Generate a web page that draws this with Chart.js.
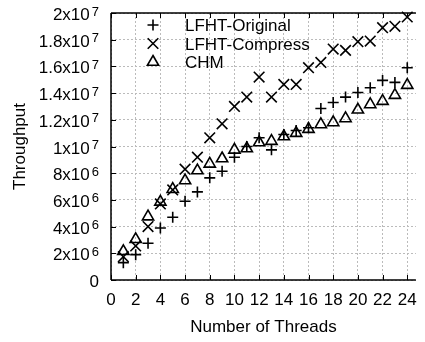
<!DOCTYPE html>
<html>
<head>
<meta charset="utf-8">
<script src="https://cdn.jsdelivr.net/npm/chart.js@4.4.1/dist/chart.umd.min.js"></script>
<style>
    html, body { margin: 0; padding: 0; background: #fff; overflow: hidden; }
    #myChart { display: block; }
</style>
</head>
<body>
<canvas id="myChart" width="425" height="342"></canvas>
<script>
// Данные (значения по оси Y в миллионах)
const threads = [1, 2, 3, 4, 5, 6, 7, 8, 9, 10, 11, 12, 13, 14, 15, 16, 17, 18, 19, 20, 21, 22, 23, 24];
const lfhtOriginal = [1.3, 1.9, 2.75, 3.9, 4.7, 5.9, 6.6, 7.65, 8.15, 9.2, 10.0, 10.65, 9.75, 10.9, 11.2, 11.4, 12.85, 13.3, 13.7, 14.05, 14.4, 14.95, 14.8, 15.9];
const lfhtCompress = [1.75, 2.55, 4.0, 5.7, 6.75, 8.3, 9.2, 10.65, 11.7, 13.0, 13.7, 15.2, 13.7, 14.65, 14.65, 15.9, 16.3, 17.3, 17.2, 17.85, 17.9, 18.9, 19.0, 19.7];
const chm = [2.15, 3.05, 4.75, 5.85, 6.8, 7.45, 8.2, 8.7, 9.1, 9.75, 9.85, 10.3, 10.4, 10.75, 11.0, 11.3, 11.65, 11.8, 12.1, 12.75, 13.15, 13.4, 13.85, 14.6];
const seriesLabels = ['LFHT-Original', 'LFHT-Compress', 'CHM'];
const xTicks = [0, 2, 4, 6, 8, 10, 12, 14, 16, 18, 20, 22, 24];
const yTicks = [0, 2, 4, 6, 8, 10, 12, 14, 16, 18, 20];
const yTickLabels = ['0', '2x10^6', '4x10^6', '6x10^6', '8x10^6', '1x10^7', '1.2x10^7', '1.4x10^7', '1.6x10^7', '1.8x10^7', '2x10^7'];

const FONT = '"Liberation Sans", Arial, sans-serif';

function toPoints(values) {
    return threads.map((t, i) => ({x: t, y: values[i]}));
}

// Маркер легенды
function drawMarker(ctx, ds, x, y) {
    ctx.save();
    ctx.strokeStyle = '#000';
    ctx.fillStyle = 'rgba(0,0,0,0)';
    ctx.lineWidth = ds.pointBorderWidth;
    if (Chart.helpers && Chart.helpers.drawPoint) {
        Chart.helpers.drawPoint(ctx, {
            pointStyle: ds.pointStyle,
            radius: ds.pointRadius,
            borderWidth: ds.pointBorderWidth,
            rotation: 0
        }, x, y);
    }
    ctx.restore();
}

// Рамка, засечки внутрь, подписи Y со степенями, легенда
const framePlugin = {
    id: 'frame',
    beforeDatasetsDraw(chart) {
        const ctx = chart.ctx;
        const area = chart.chartArea;
        const xs = chart.scales.x;
        const ys = chart.scales.y;
        ctx.save();
        ctx.setLineDash([]);
        ctx.strokeStyle = '#000';
        ctx.lineWidth = 1.5;
        ctx.beginPath();
        ctx.moveTo(area.left, area.top);
        ctx.lineTo(area.left, area.bottom);
        ctx.moveTo(area.left, area.bottom);
        ctx.lineTo(area.right, area.bottom);
        ctx.moveTo(area.left, area.top);
        ctx.lineTo(area.right, area.top);
        ctx.stroke();

        ctx.lineWidth = 1;
        ctx.beginPath();
        xTicks.forEach((v) => {
            const x = Math.round(xs.getPixelForValue(v)) + 0.5;
            ctx.moveTo(x, area.bottom);
            ctx.lineTo(x, area.bottom - 5);
            ctx.moveTo(x, area.top);
            ctx.lineTo(x, area.top + 5);
        });
        yTicks.forEach((v) => {
            const y = Math.round(ys.getPixelForValue(v)) + 0.5;
            ctx.moveTo(area.left, y);
            ctx.lineTo(area.left + 5, y);
        });
        ctx.stroke();
        ctx.restore();
    },
    afterDraw(chart) {
        const ctx = chart.ctx;
        const area = chart.chartArea;
        const ys = chart.scales.y;
        ctx.save();
        ctx.fillStyle = '#000';
        ctx.textAlign = 'right';
        ctx.textBaseline = 'alphabetic';
        const right = area.left - 12;
        yTicks.forEach((v, i) => {
            const y = ys.getPixelForValue(v);
            const parts = yTickLabels[i].split('^');
            ctx.font = '17px ' + FONT;
            if (parts.length === 1) {
                ctx.fillText(parts[0], right, y + 6.5);
                return;
            }
            ctx.font = '13px ' + FONT;
            const ew = ctx.measureText(parts[1]).width;
            ctx.fillText(parts[1], right, y + 2.5);
            ctx.font = '17px ' + FONT;
            ctx.fillText(parts[0], right - ew - 2, y + 7);
        });

        // Легенда
        ctx.textAlign = 'left';
        chart.data.datasets.forEach((ds, i) => {
            const cy = area.top + 12 + i * 18.5;
            drawMarker(ctx, ds, area.left + 42, cy);
            ctx.font = '17px ' + FONT;
            ctx.fillStyle = '#000';
            ctx.fillText(ds.label, area.left + 74, cy + 6);
        });
        ctx.restore();
    }
};

const ctx = document.getElementById('myChart');

new Chart(ctx, {
    type: 'scatter',
    data: {
        datasets: [
            {
                label: seriesLabels[0],
                data: toPoints(lfhtOriginal),
                pointStyle: 'cross',
                pointRadius: 5.5,
                pointBorderWidth: 1.6,
                borderColor: '#000',
                backgroundColor: 'rgba(0,0,0,0)',
                clip: false
            },
            {
                label: seriesLabels[1],
                data: toPoints(lfhtCompress),
                pointStyle: 'crossRot',
                pointRadius: 7.5,
                pointBorderWidth: 1.6,
                borderColor: '#000',
                backgroundColor: 'rgba(0,0,0,0)',
                clip: false
            },
            {
                label: seriesLabels[2],
                data: toPoints(chm),
                pointStyle: 'triangle',
                pointRadius: 6.5,
                pointBorderWidth: 1.6,
                borderColor: '#000',
                backgroundColor: 'rgba(0,0,0,0)',
                clip: false
            }
        ]
    },
    options: {
        responsive: false,
        animation: false,
        devicePixelRatio: 1,
        layout: {
            padding: {left: 0, right: 0, top: 13, bottom: 0}
        },
        plugins: {
            legend: {display: false},
            tooltip: {enabled: false}
        },
        scales: {
            x: {
                type: 'linear',
                min: 0,
                max: 24.7,
                afterBuildTicks: (scale) => {
                    scale.ticks = xTicks.map((v) => ({value: v}));
                },
                afterFit: (scale) => {
                    scale.height = 62;
                    scale.paddingLeft = 0;
                    scale.paddingRight = 0;
                },
                grid: {color: '#bbb', lineWidth: 1, drawTicks: false},
                border: {display: false, dash: [2, 2]},
                ticks: {
                    color: '#000',
                    padding: 10,
                    maxRotation: 0,
                    autoSkip: false,
                    font: {family: FONT, size: 17}
                },
                title: {
                    display: true,
                    text: 'Number of Threads',
                    color: '#000',
                    padding: {top: 0, bottom: 4},
                    font: {family: FONT, size: 17}
                }
            },
            y: {
                type: 'linear',
                min: 0,
                max: 20,
                afterBuildTicks: (scale) => {
                    scale.ticks = yTicks.map((v) => ({value: v}));
                },
                afterFit: (scale) => {
                    scale.width = 111;
                },
                grid: {color: '#bbb', lineWidth: 1, drawTicks: false},
                border: {display: false, dash: [2, 2]},
                ticks: {display: false},
                title: {
                    display: true,
                    text: 'Throughput',
                    color: '#000',
                    padding: {top: 10, bottom: 0},
                    font: {family: FONT, size: 17}
                }
            }
        }
    },
    plugins: [framePlugin]
});
</script>
</body>
</html>
